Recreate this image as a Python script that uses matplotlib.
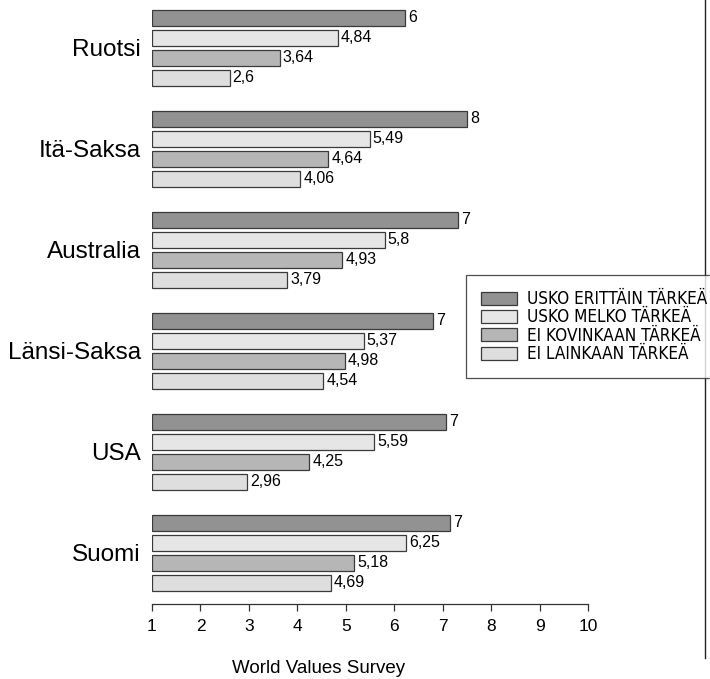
import matplotlib
matplotlib.use("Agg")
import matplotlib.pyplot as plt
from matplotlib import font_manager
from matplotlib.font_manager import FontProperties
from matplotlib.patches import Patch
from matplotlib.lines import Line2D
import numpy as np

plt.rcParams['font.family'] = ['Liberation Sans', 'DejaVu Sans']

# data
countries = ['Ruotsi', 'Itä-Saksa', 'Australia', 'Länsi-Saksa', 'USA', 'Suomi']
series = ['USKO ERITTÄIN TÄRKEÄ', 'USKO MELKO TÄRKEÄ',
          'EI KOVINKAAN TÄRKEÄ', 'EI LAINKAAN TÄRKEÄ']
erittain = [6.23, 7.51, 7.32, 6.81, 7.07, 7.16]
erittain_labels = ['6', '8', '7', '7', '7', '7']
melko = [4.84, 5.49, 5.8, 5.37, 5.59, 6.25]
kovinkaan = [3.64, 4.64, 4.93, 4.98, 4.25, 5.18]
lainkaan = [2.6, 4.06, 3.79, 4.54, 2.96, 4.69]

colors = ['#929292', '#e6e6e6', '#b6b6b6', '#dedede']
base = 1


def fi(v):
    return f'{v:g}'.replace('.', ',')


values = [erittain, melko, kovinkaan, lainkaan]
labels = [erittain_labels, [fi(v) for v in melko],
          [fi(v) for v in kovinkaan], [fi(v) for v in lainkaan]]

fig = plt.figure(figsize=(7.10, 6.79), dpi=100)
ax = fig.add_axes([152 / 710, 1 - 604 / 679, 436 / 710, 604 / 679])

y = np.arange(len(countries))
offsets = [-0.297, -0.099, 0.099, 0.297]
h = 0.158
for vals, labs, off, c in zip(values, labels, offsets, colors):
    widths = np.array(vals) - base
    ax.barh(y + off, widths, left=base, height=h, color=c,
            edgecolor='#3a3a3a', linewidth=0.9)
    for yi, v, lab in zip(y, vals, labs):
        ax.text(v + 0.06, yi + off, lab, va='center', ha='left', fontsize=11.5)

ax.set_xlim(1, 10)
ax.set_ylim(5.508, -0.472)
ax.set_xticks(range(1, 11))
ax.set_yticks(y)
ax.set_yticklabels(countries, fontsize=17.5)
ax.tick_params(axis='y', length=0, pad=8)
ax.tick_params(axis='x', length=5, width=0.9, color='#333333', labelsize=12.5, pad=6)
for s in ['top', 'right', 'left']:
    ax.spines[s].set_visible(False)
ax.spines['bottom'].set_color('#333333')
ax.spines['bottom'].set_linewidth(0.9)

fig.text(319 / 710, 1 - 673 / 679, 'World Values Survey', ha='center',
         va='baseline', fontsize=13.5)

# right border line
fig.add_artist(Line2D([705 / 710, 705 / 710], [1, 1 - 658 / 679],
                      color='#222222', linewidth=1))

# legend font: a regular narrow face if one is installed, sized to the reference width
leg_font = None
rank = 99
for f in font_manager.fontManager.ttflist:
    narrow = 'Narrow' in f.name or 'Condensed' in f.name or f.stretch == 'condensed'
    if not narrow or f.weight not in (400, 'normal', 'regular') or f.style != 'normal':
        continue
    r_ = 0 if ('Liberation' in f.name or 'Arial' in f.name) else 1
    if r_ < rank:
        rank = r_
        leg_font = FontProperties(fname=f.fname)
if leg_font is None:
    leg_font = FontProperties(family='Liberation Sans')
r = fig.canvas.get_renderer()
leg_font.set_size(10)
t = fig.text(0, 0, series[0], fontproperties=leg_font)
w = t.get_window_extent(r).width
t.remove()
leg_font.set_size(10 * 181 / w)

handles = [Patch(facecolor=c, edgecolor='#3a3a3a', linewidth=0.9) for c in colors]
leg = fig.legend(handles, series, loc='upper left',
                 bbox_to_anchor=(466 / 710, 1 - 275 / 679),
                 frameon=True, fancybox=False, prop=leg_font,
                 handlelength=2.1, handleheight=0.8, handletextpad=0.6,
                 labelspacing=0.02, borderpad=0.88, borderaxespad=0)
leg.get_frame().set_edgecolor('#222222')
leg.get_frame().set_linewidth(0.9)

fig.savefig('out.png', dpi=100)
